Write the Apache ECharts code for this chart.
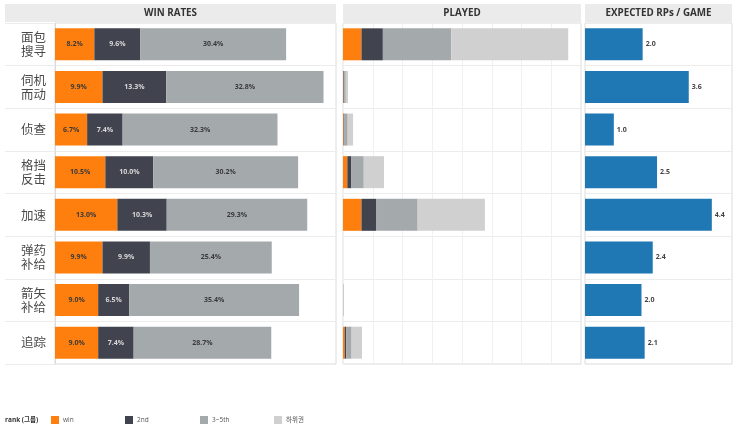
<!DOCTYPE html>
<html>
<head>
<meta charset="utf-8">
<script src="https://cdn.jsdelivr.net/npm/echarts@6/dist/echarts.min.js"></script>
<style>
  html, body { margin: 0; padding: 0; background: #ffffff; }
  #chart { width: 740px; height: 432px; }
</style>
</head>
<body>
<div id="chart"></div>
<script>
// ---- data ----
const categories = ['面包\n搜寻', '伺机\n而动', '侦查', '格挡\n反击', '加速', '弹药\n补给', '箭矢\n补给', '追踪'];
const rankNames = ['win', '2nd', '3~5th', '하위권'];
const panelTitles = ['WIN RATES', 'PLAYED', 'EXPECTED RPs / GAME'];
const legendTitle = 'rank (그룹)';

// win rates (%)
const winRate    = [8.2, 9.9, 6.7, 10.5, 13.0, 9.9, 9.0, 9.0];
const secondRate = [9.6, 13.3, 7.4, 10.0, 10.3, 9.9, 6.5, 7.4];
const thirdRate  = [30.4, 32.8, 32.3, 30.2, 29.3, 25.4, 35.4, 28.7];

// played (games, by rank group)
const playedWin    = [6.2, 0.17, 0.23, 1.45, 6.2, 0, 0.03, 0.58];
const playedSecond = [7.2, 0.22, 0.25, 1.38, 4.9, 0, 0.02, 0.47];
const playedThird  = [23.0, 0.55, 1.1, 4.15, 14.0, 0, 0.12, 1.84];
const playedRest   = [39.3, 0.74, 1.8, 6.8, 22.6, 0, 0.15, 3.5];

// expected RPs per game
const expectedRP = [2.0, 3.6, 1.0, 2.5, 4.4, 2.35, 1.96, 2.07];

// ---- styling ----
const colors = ['#fe7f0e', '#41444f', '#a4a9ac', '#d0d0d0'];
const blue = '#1f77b4';
const sepColor = '#ececec';
const borderColor = '#dcdcdc';
const cjk = '"Noto Sans CJK SC", "Noto Sans CJK KR", sans-serif';
const latin = '"Open Sans", "Noto Sans CJK KR", sans-serif';

const chart = echarts.init(document.getElementById('chart'), null, { renderer: 'canvas' });

const grids = [
  { left: 55, top: 23, width: 281, height: 341 },
  { left: 343, top: 23, width: 238, height: 341 },
  { left: 585, top: 23, width: 147, height: 341 }
].map(g => Object.assign({ show: true, borderColor: borderColor, borderWidth: 1, backgroundColor: 'transparent' }, g));

const hiddenValueAxis = (gi, max, showSplit, interval) => ({
  type: 'value', gridIndex: gi, min: 0, max: max, interval: interval,
  axisLine: { show: false }, axisTick: { show: false }, axisLabel: { show: false },
  splitLine: { show: showSplit, lineStyle: { color: '#f0f0f0', width: 1 } }
});

const catAxis = (gi, first) => ({
  type: 'category', gridIndex: gi, data: categories, inverse: true,
  axisLine: { show: first, lineStyle: { color: borderColor } },
  axisTick: first ? { show: true, length: 50, interval: 0, lineStyle: { color: sepColor } } : { show: false },
  axisLabel: first ? {
    show: true, margin: 9, fontFamily: cjk, fontSize: 12.5, lineHeight: 14, color: '#4a4a4a'
  } : { show: false },
  splitLine: { show: true, interval: 0, lineStyle: { color: sepColor } }
});

const pctLabel = (color) => ({
  show: true, position: 'inside', fontSize: 7, fontWeight: 'bold', fontFamily: latin, color: color,
  formatter: p => p.value.toFixed(1) + '%'
});

const barW = 32;
const series = [];
[winRate, secondRate, thirdRate].forEach((arr, i) => {
  series.push({
    name: rankNames[i], type: 'bar', stack: 'win', xAxisIndex: 0, yAxisIndex: 0,
    data: arr, barWidth: barW, itemStyle: { color: colors[i] },
    label: pctLabel(i === 1 ? '#d8d8d8' : '#3a3a3a'),
    emphasis: { disabled: true }
  });
});
[playedWin, playedSecond, playedThird, playedRest].forEach((arr, i) => {
  series.push({
    name: rankNames[i], type: 'bar', stack: 'played', xAxisIndex: 1, yAxisIndex: 1,
    data: arr, barWidth: barW, itemStyle: { color: colors[i] },
    emphasis: { disabled: true }
  });
});
series.push({
  name: 'RP', type: 'bar', xAxisIndex: 2, yAxisIndex: 2, data: expectedRP, barWidth: barW,
  itemStyle: { color: blue },
  label: { show: true, position: 'right', distance: 3, fontSize: 7, fontWeight: 'bold', fontFamily: latin, color: '#444',
    formatter: p => p.value.toFixed(1) },
  emphasis: { disabled: true }
});

const headerBoxes = [
  { x: 5, w: 331 }, { x: 343, w: 238 }, { x: 585, w: 147 }
];
const graphic = [];
headerBoxes.forEach((h, i) => {
  graphic.push({ type: 'rect', left: h.x, top: 4, shape: { width: h.w, height: 18 }, style: { fill: '#ebebeb' }, silent: true });
  graphic.push({ type: 'text', x: h.x + h.w / 2, y: 13,
    style: { text: panelTitles[i], align: 'center', verticalAlign: 'middle', font: 'bold 9.8px "Open Sans", sans-serif', fill: '#333' }, silent: true });
});
graphic.push({ type: 'text', x: 5, y: 420,
  style: { text: legendTitle, verticalAlign: 'middle', font: 'bold 6.5px "Open Sans", "Noto Sans CJK KR", sans-serif', fill: '#333' } });

const legendLefts = [51, 125, 200, 274];
const legends = rankNames.map((n, i) => ({
  data: [n], left: legendLefts[i], top: 416, padding: 0, icon: 'rect', itemWidth: 8, itemHeight: 8, itemGap: 0,
  selectedMode: false,
  textStyle: { fontSize: 6.5, color: '#555', fontFamily: latin, padding: [0, 0, 0, -1] }
}));

chart.setOption({
  backgroundColor: '#ffffff',
  animation: false,
  grid: grids,
  xAxis: [hiddenValueAxis(0, 58.6, false), hiddenValueAxis(1, 80, true, 10), hiddenValueAxis(2, 5.1, false)],
  yAxis: [catAxis(0, true), catAxis(1, false), catAxis(2, false)],
  legend: legends,
  graphic: graphic,
  series: series
});
</script>
</body>
</html>
